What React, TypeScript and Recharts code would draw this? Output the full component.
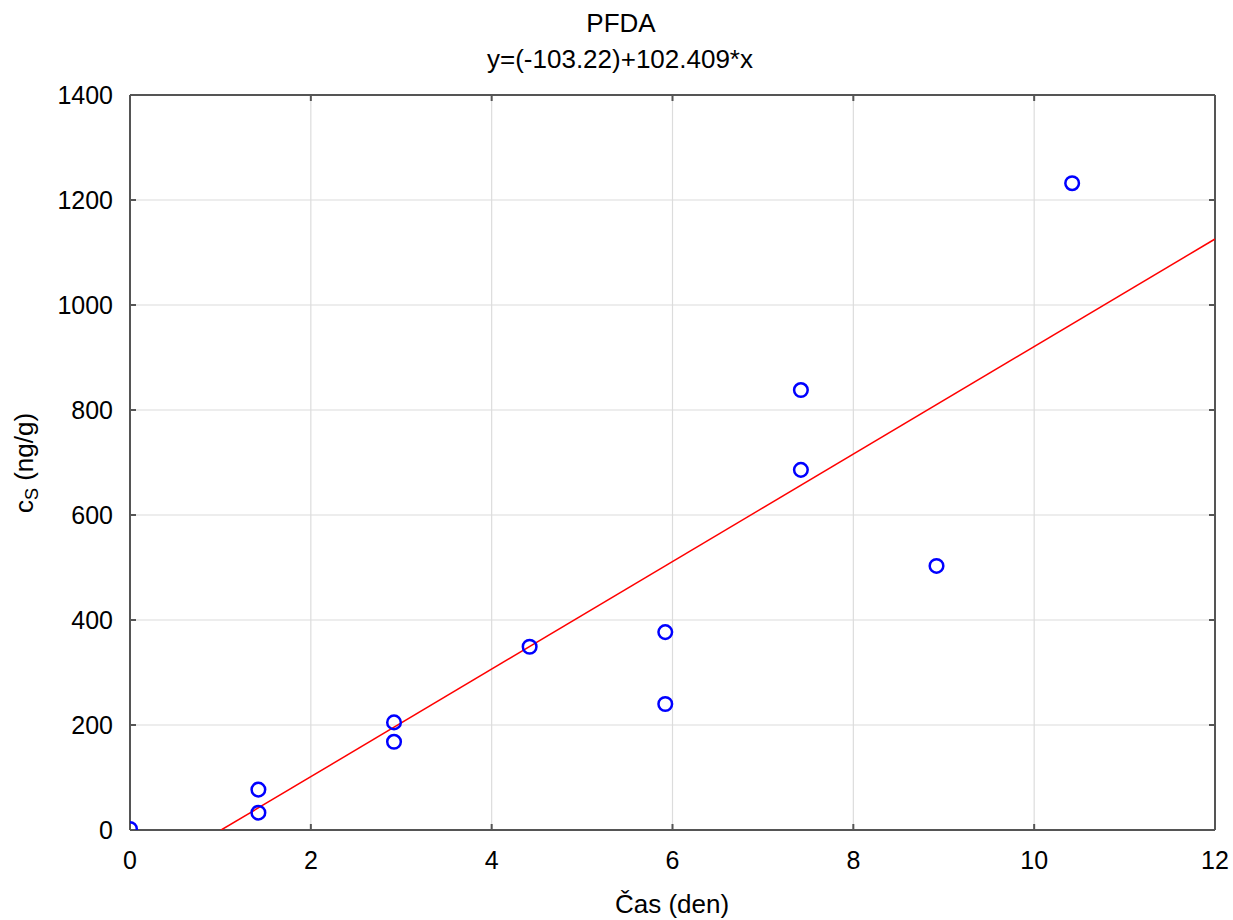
import React from "react";
import { ScatterChart, Scatter, XAxis, YAxis, CartesianGrid } from "recharts";

const timeDays = [0, 1.42, 1.42, 2.92, 2.92, 4.42, 5.92, 5.92, 7.42, 7.42, 8.92, 10.42];
const concValues = [2, 77, 33, 205, 168, 349, 377, 240, 838, 686, 503, 1232];
const fitX = [1.008, 12];
const fitY = [0, 1125.69];
const xTicks = [0, 2, 4, 6, 8, 10, 12];
const yTicks = [0, 200, 400, 600, 800, 1000, 1200, 1400];
const chartTitle = "PFDA";
const chartSubtitle = "y=(-103.22)+102.409*x";
const xLabel = "Čas (den)";

const points = timeDays.map((x, i) => ({ x, y: concValues[i] }));
const fitLine = fitX.map((x, i) => ({ x, y: fitY[i] }));

const FONT = "'Liberation Sans', Arial, sans-serif";
const FRAME = "#555555";
const tickStyle = { fontSize: 25, fill: "#000", fontFamily: FONT };

const Circle = (props: any) => {
  const { cx, cy } = props;
  if (cx == null || cy == null) return null;
  return <circle cx={cx} cy={cy} r={6.8} fill="none" stroke="#0000ff" strokeWidth={2.5} />;
};

export default function App() {
  return (
    <div style={{ position: "absolute", left: 0, top: 0, width: 1233, height: 920, background: "#fff", fontFamily: FONT }}>
      <ScatterChart width={1233} height={920} margin={{ top: 75, right: 0, left: 0, bottom: 0 }}>
        <CartesianGrid xAxisId="b" yAxisId="l" stroke="#dcdcdc" strokeWidth={1.2} />
        <XAxis
          xAxisId="b"
          dataKey="x"
          type="number"
          domain={[0, 12]}
          ticks={xTicks}
          allowDataOverflow
          orientation="bottom"
          height={90}
          tickSize={-6}
          tickMargin={27}
          tick={tickStyle}
          axisLine={{ stroke: FRAME, strokeWidth: 2 }}
          tickLine={{ stroke: FRAME, strokeWidth: 2 }}
        />
        <XAxis
          xAxisId="t"
          dataKey="x"
          type="number"
          domain={[0, 12]}
          ticks={xTicks}
          allowDataOverflow
          orientation="top"
          height={20}
          tickSize={-6}
          tickFormatter={() => ""}
          axisLine={{ stroke: FRAME, strokeWidth: 2 }}
          tickLine={{ stroke: FRAME, strokeWidth: 2 }}
        />
        <YAxis
          yAxisId="l"
          dataKey="y"
          type="number"
          domain={[0, 1400]}
          ticks={yTicks}
          allowDataOverflow
          orientation="left"
          width={130}
          tickSize={-6}
          tickMargin={23}
          tick={tickStyle}
          axisLine={{ stroke: FRAME, strokeWidth: 2 }}
          tickLine={{ stroke: FRAME, strokeWidth: 2 }}
        />
        <YAxis
          yAxisId="r"
          dataKey="y"
          type="number"
          domain={[0, 1400]}
          ticks={yTicks}
          allowDataOverflow
          orientation="right"
          width={18}
          tickSize={-6}
          tickFormatter={() => ""}
          axisLine={{ stroke: FRAME, strokeWidth: 2 }}
          tickLine={{ stroke: FRAME, strokeWidth: 2 }}
        />
        <Scatter
          xAxisId="b"
          yAxisId="l"
          data={fitLine}
          line={{ stroke: "#ff0000", strokeWidth: 1.5 }}
          shape={() => null}
          isAnimationActive={false}
        />
        <Scatter
          xAxisId="b"
          yAxisId="l"
          data={points}
          shape={<Circle />}
          isAnimationActive={false}
        />
      </ScatterChart>
      <svg width={1233} height={920} style={{ position: "absolute", left: 0, top: 0, pointerEvents: "none" }}>
        <text x={621} y={32} textAnchor="middle" fontSize={26} fontFamily={FONT} fill="#000">{chartTitle}</text>
        <text x={620} y={68} textAnchor="middle" fontSize={26} fontFamily={FONT} fill="#000">{chartSubtitle}</text>
        <text x={672} y={913} textAnchor="middle" fontSize={26} fontFamily={FONT} fill="#000">{xLabel}</text>
        <text transform="translate(33,463) rotate(-90)" textAnchor="middle" fontSize={26} fontFamily={FONT} fill="#000">
          <tspan>c</tspan>
          <tspan fontSize={18} dy={5}>S</tspan>
          <tspan dy={-5}> (ng/g)</tspan>
        </text>
      </svg>
    </div>
  );
}
